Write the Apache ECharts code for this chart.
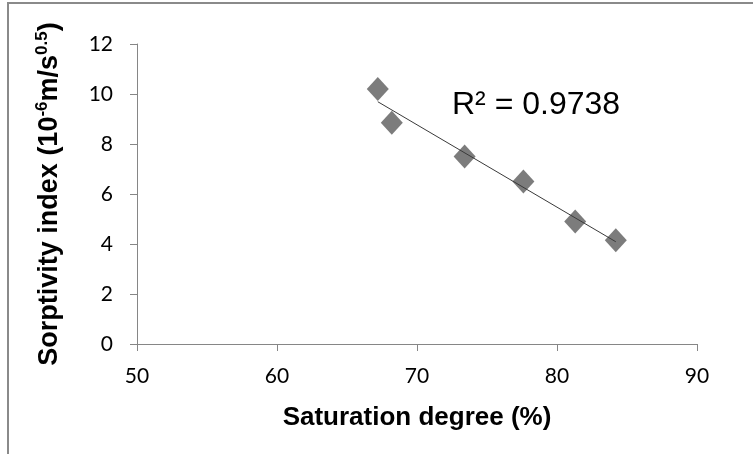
<!DOCTYPE html>
<html><head><meta charset="utf-8">
<script src="https://cdn.jsdelivr.net/npm/echarts@6/dist/echarts.min.js"></script>
<style>html,body{margin:0;padding:0;background:#fff}#c{width:753px;height:454px}</style>
</head><body><div id="c"></div>
<script>
const saturation = [67.2, 68.2, 73.4, 77.6, 81.3, 84.2];
const sorptivity = [10.2, 8.85, 7.5, 6.5, 4.9, 4.15];
const xTicks = [50, 60, 70, 80, 90];
const yTicks = [0, 2, 4, 6, 8, 10, 12];
const r2Label = 'R² = 0.9738';

const n = saturation.length;
const mx = saturation.reduce((a,b)=>a+b,0)/n;
const my = sorptivity.reduce((a,b)=>a+b,0)/n;
let sxy=0, sxx=0;
for (let i=0;i<n;i++){sxy+=(saturation[i]-mx)*(sorptivity[i]-my);sxx+=(saturation[i]-mx)**2;}
const slope = sxy/sxx, icpt = my - slope*mx;
const x0 = Math.min(...saturation), x1 = Math.max(...saturation);
const trend = [[x0, icpt+slope*x0],[x1, icpt+slope*x1]];

const chart = echarts.init(document.getElementById('c'));
const tickFont = {fontFamily:'Lato, Carlito, sans-serif', fontSize:21, color:'#000'};
const titleFont = {fontFamily:'Liberation Sans, Arial', fontWeight:'bold', fontSize:26, color:'#000'};
chart.setOption({
  animation:false,
  backgroundColor:'#fff',
  graphic:[
    {type:'rect', shape:{x:8,y:3,width:800,height:500}, style:{fill:'none',stroke:'#8a8a8a',lineWidth:2}, z:-1},
    {type:'text', x:452, y:105, style:{text:r2Label, fontFamily:'Liberation Sans, Arial', fontSize:32, fill:'#000', textVerticalAlign:'middle', verticalAlign:'middle'}}
  ],
  grid:{left:137, top:44, right:56, bottom:110},
  xAxis:{
    type:'value', min:xTicks[0], max:xTicks[xTicks.length-1], interval:10,
    splitLine:{show:false},
    axisLine:{lineStyle:{color:'#868686'}},
    axisTick:{show:true, length:7, lineStyle:{color:'#868686'}},
    axisLabel:Object.assign({margin:22}, tickFont),
    name:'Saturation degree (%)', nameLocation:'middle', nameGap:61,
    nameTextStyle:titleFont
  },
  yAxis:{
    type:'value', min:yTicks[0], max:yTicks[yTicks.length-1], interval:2,
    splitLine:{show:false},
    axisLine:{show:true, lineStyle:{color:'#868686'}},
    axisTick:{show:true, length:7, lineStyle:{color:'#868686'}},
    axisLabel:Object.assign({margin:24}, tickFont),
    name:'Sorptivity index (10{sup|-6}m/s{sup|0.5})', nameLocation:'middle', nameGap:72, nameRotate:90,
    nameTextStyle:Object.assign({}, titleFont, {fontSize:27,
      rich:{sup:{fontFamily:'Liberation Sans, Arial', fontWeight:'bold', fontSize:17, verticalAlign:'top', lineHeight:31, color:'#000'}}})
  },
  series:[
    {type:'scatter', data:saturation.map((x,i)=>[x, sorptivity[i]]), symbol:'diamond', symbolSize:[22,24],
     itemStyle:{color:'#5b5b5b'}, z:2},
    {type:'line', data:trend, symbol:'none', lineStyle:{color:'#3a3a3a', width:1}, z:3}
  ]
});
</script></body></html>
